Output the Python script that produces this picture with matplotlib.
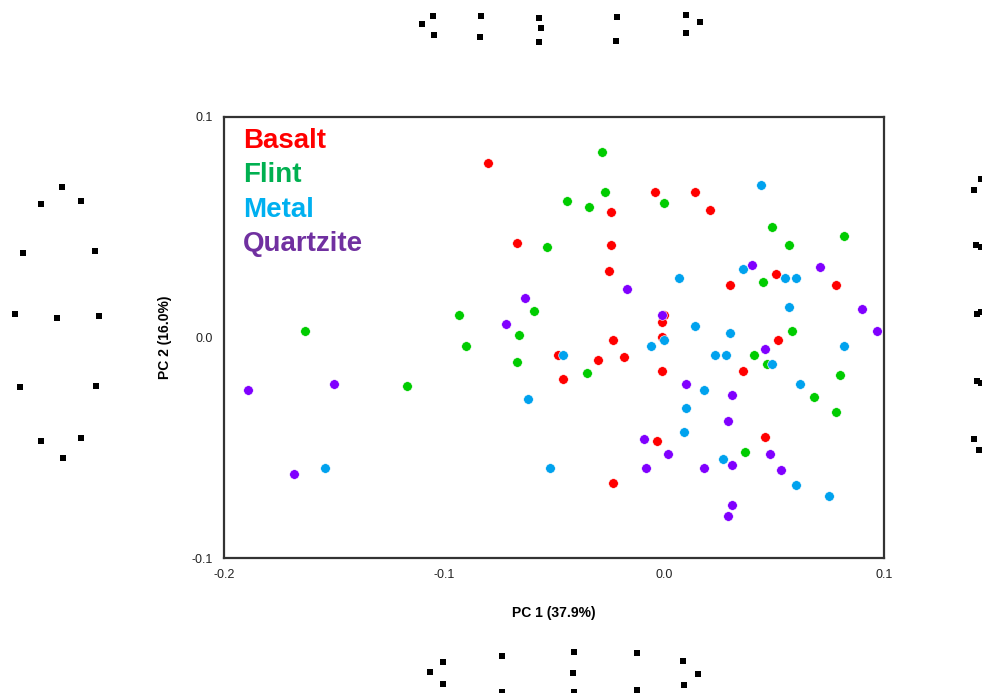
''' PCA scatter of tool materials '''
import matplotlib
matplotlib.use('Agg')
import matplotlib.pyplot as plt

plt.rcParams['font.family'] = ['Liberation Sans', 'DejaVu Sans']

# PC1, PC2 scores per material
basalt_x = [-0.080, -0.067, -0.024, -0.004, 0.014, 0.021, -0.024, -0.025, 0.030,
            0.051, 0.078, 0.000, -0.001, -0.023, -0.001, 0.052, -0.048, -0.030,
            -0.018, -0.046, -0.001, 0.036, -0.003, 0.046, -0.023]
basalt_y = [0.079, 0.043, 0.057, 0.066, 0.066, 0.058, 0.042, 0.030, 0.024,
            0.029, 0.024, 0.010, 0.007, -0.001, 0.000, -0.001, -0.008, -0.010,
            -0.009, -0.019, -0.015, -0.015, -0.047, -0.045, -0.066]

flint_x = [-0.053, -0.059, -0.093, -0.066, -0.163, -0.090, -0.067, -0.117,
           -0.028, -0.027, -0.044, -0.034, 0.000, 0.049, 0.057, 0.082, 0.045,
           0.058, -0.035, 0.041, 0.047, 0.068, 0.080, 0.078, 0.037]
flint_y = [0.041, 0.012, 0.010, 0.001, 0.003, -0.004, -0.011, -0.022,
           0.084, 0.066, 0.062, 0.059, 0.061, 0.050, 0.042, 0.046, 0.025,
           0.003, -0.016, -0.008, -0.012, -0.027, -0.017, -0.034, -0.052]

metal_x = [-0.062, -0.154, -0.052, 0.044, 0.007, 0.036, 0.055, 0.060, 0.057,
           0.014, 0.030, 0.000, -0.006, 0.082, -0.046, 0.023, 0.028, 0.049,
           0.018, 0.062, 0.010, 0.009, 0.027, 0.060, 0.075]
metal_y = [-0.028, -0.059, -0.059, 0.069, 0.027, 0.031, 0.027, 0.027, 0.014,
           0.005, 0.002, -0.001, -0.004, -0.004, -0.008, -0.008, -0.008, -0.012,
           -0.024, -0.021, -0.032, -0.043, -0.055, -0.067, -0.072]

quartzite_x = [-0.063, -0.072, -0.189, -0.150, -0.168, -0.017, 0.040, 0.071,
               0.090, 0.097, -0.001, 0.046, 0.010, 0.031, 0.029, -0.009, 0.002,
               -0.008, 0.018, 0.031, 0.048, 0.053, 0.031, 0.029]
quartzite_y = [0.018, 0.006, -0.024, -0.021, -0.062, 0.022, 0.033, 0.032,
               0.013, 0.003, 0.010, -0.005, -0.021, -0.026, -0.038, -0.046,
               -0.053, -0.059, -0.059, -0.058, -0.053, -0.060, -0.076, -0.081]

materials = ['Basalt', 'Flint', 'Metal', 'Quartzite']
point_colors = ['#FF0000', '#00CC00', '#00A2EE', '#8000FF']
text_colors = ['#FF0000', '#00B050', '#00B0F0', '#7030A0']

# stray square markers around the plot, in figure pixels
square_px = [433, 422, 434, 481, 480, 539, 541, 539, 617, 616, 686, 700, 686,
             443, 430, 443, 502, 502, 574, 573, 574, 637, 637, 683, 698, 684,
             62, 41, 81, 23, 95, 15, 57, 99, 20, 96, 41, 81, 63,
             981, 974, 976, 981, 977, 981, 977, 981, 974, 979]
square_py = [16, 24, 35, 16, 37, 18, 28, 42, 17, 41, 15, 22, 33,
             662, 672, 684, 656, 692, 652, 673, 692, 653, 690, 661, 674, 685,
             187, 204, 201, 253, 251, 314, 318, 316, 387, 386, 441, 438, 458,
             179, 190, 245, 247, 314, 312, 381, 383, 439, 450]


def main():
    ''' main function '''
    fig = plt.figure(figsize=(9.82, 6.93), dpi=100)

    bg = fig.add_axes([0, 0, 1, 1])
    bg.set_xlim(0, 982)
    bg.set_ylim(693, 0)
    bg.axis('off')
    bg.scatter(square_px, square_py, marker='s', s=20, color='black',
               linewidths=0)

    ax = fig.add_axes([0.2281, 0.1948, 0.6721, 0.6364])
    series = [(basalt_x, basalt_y), (flint_x, flint_y),
              (metal_x, metal_y), (quartzite_x, quartzite_y)]
    for (xs, ys), col in zip(series, point_colors):
        ax.scatter(xs, ys, s=48, color=col, edgecolors='white',
                   linewidths=0.4, zorder=3)

    ax.set_xlim(-0.2, 0.1)
    ax.set_ylim(-0.1, 0.1)
    ax.set_xticks([-0.2, -0.1, 0.0, 0.1])
    ax.set_xticklabels(['-0.2', '-0.1', '0.0', '0.1'])
    ax.set_yticks([-0.1, 0.0, 0.1])
    ax.set_yticklabels(['-0.1', '0.0', '0.1'])
    ax.tick_params(length=0, labelsize=9, pad=8, colors='#222222')
    for sp in ax.spines.values():
        sp.set_color('#333333')
        sp.set_linewidth(1.6)

    ax.set_xlabel('PC 1 (37.9%)', fontsize=10, fontweight='bold', labelpad=18)
    ax.set_ylabel('PC 2 (16.0%)', fontsize=10, fontweight='bold', labelpad=14)

    for i, (name, col) in enumerate(zip(materials, text_colors)):
        ax.text(0.029, 0.946 - i * 0.078, name, transform=ax.transAxes,
                fontsize=20, fontweight='bold', color=col, va='center',
                ha='left')

    fig.savefig('out.png', dpi=100)


if __name__ == '__main__':
    main()
